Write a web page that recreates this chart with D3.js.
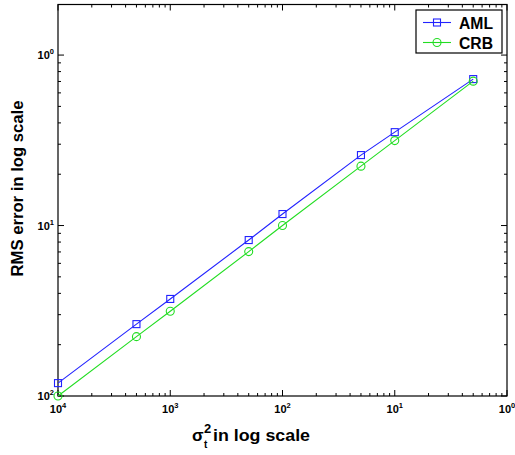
<!DOCTYPE html>
<html><head><meta charset="utf-8">
<script src="https://cdn.jsdelivr.net/npm/d3@7"></script>
<style>body{margin:0;background:#fff}svg{display:block}</style>
</head><body>
<script>
const sigma2 = [1e-4, 5e-4, 1e-3, 5e-3, 1e-2, 5e-2, 1e-1, 5e-1];
const aml = [0.0119, 0.0264, 0.0371, 0.0822, 0.1168, 0.259, 0.353, 0.723];
const crb = [0.0100, 0.0223, 0.0314, 0.0703, 0.100, 0.223, 0.315, 0.703];
const xTicks = [1e-4, 1e-3, 1e-2, 1e-1, 1e0];
const xTickLabels = ["4", "3", "2", "1", "0"];
const yTicks = [1e-2, 1e-1, 1e0];
const yTickLabels = ["2", "1", "0"];
const seriesNames = ["AML", "CRB"];

const W = 515, H = 455;
const L = 58, R = 507, T = 4.5, B = 396;
const svg = d3.select("body").append("svg").attr("width", W).attr("height", H);
const x = d3.scaleLog().domain([1e-4, 1]).range([L, R]);
const y = d3.scaleLog().domain([0.01, 1.98]).range([B, T]);
const font = "'Liberation Sans', Arial, sans-serif";

function minors(lo, hi) {
  const out = [];
  for (let e = Math.floor(Math.log10(lo)); e <= Math.ceil(Math.log10(hi)); e++)
    for (let k = 2; k <= 9; k++) { const v = k * Math.pow(10, e); if (v > lo && v < hi) out.push(v); }
  return out;
}
const g = svg.append("g").attr("stroke", "#000").attr("stroke-width", 1);
const xMin = minors(1e-4, 1), yMin = minors(0.01, 1.98);
xTicks.forEach(v => {
  g.append("line").attr("x1", x(v)).attr("x2", x(v)).attr("y1", B).attr("y2", B - 6);
  g.append("line").attr("x1", x(v)).attr("x2", x(v)).attr("y1", T).attr("y2", T + 6);
});
xMin.forEach(v => {
  g.append("line").attr("x1", x(v)).attr("x2", x(v)).attr("y1", B).attr("y2", B - 3);
  g.append("line").attr("x1", x(v)).attr("x2", x(v)).attr("y1", T).attr("y2", T + 3);
});
yTicks.forEach(v => {
  g.append("line").attr("y1", y(v)).attr("y2", y(v)).attr("x1", L).attr("x2", L + 6);
  g.append("line").attr("y1", y(v)).attr("y2", y(v)).attr("x1", R).attr("x2", R - 6);
});
yMin.forEach(v => {
  g.append("line").attr("y1", y(v)).attr("y2", y(v)).attr("x1", L).attr("x2", L + 3);
  g.append("line").attr("y1", y(v)).attr("y2", y(v)).attr("x1", R).attr("x2", R - 3);
});
svg.append("rect").attr("x", L).attr("y", T).attr("width", R - L).attr("height", B - T)
  .attr("fill", "none").attr("stroke", "#000").attr("stroke-width", 1.2);

xTicks.forEach((v, i) => {
  const t = svg.append("text").attr("x", x(v)).attr("y", B + 17).attr("text-anchor", "middle")
    .attr("font-family", font).attr("font-weight", "bold").attr("font-size", 11);
  t.append("tspan").text("10");
  t.append("tspan").attr("dy", -5).attr("font-size", 7.5).text(xTickLabels[i]);
});
yTicks.forEach((v, i) => {
  const t = svg.append("text").attr("x", L - 4).attr("y", y(v) + 4).attr("text-anchor", "end")
    .attr("font-family", font).attr("font-weight", "bold").attr("font-size", 11);
  t.append("tspan").text("10");
  t.append("tspan").attr("dy", -5).attr("font-size", 7.5).text(yTickLabels[i]);
});

// axis labels
svg.append("text").attr("transform", `translate(23,188.5) rotate(-90)`)
  .attr("text-anchor", "middle").attr("font-family", font).attr("font-size", 17)
  .attr("font-weight", "bold").attr("textLength", 176).attr("lengthAdjust", "spacingAndGlyphs")
  .text("RMS error in log scale");
svg.append("text").attr("x", 192).attr("y", 441).attr("font-family", font).attr("font-size", 17).attr("font-weight", "bold").text("σ");
svg.append("text").attr("x", 204).attr("y", 433).attr("font-family", font).attr("font-size", 13).attr("font-weight", "bold").text("2");
svg.append("text").attr("x", 204).attr("y", 448).attr("font-family", font).attr("font-size", 10).attr("font-weight", "bold").text("t");
svg.append("text").attr("x", 213).attr("y", 441).attr("font-family", font).attr("font-size", 17).attr("font-weight", "bold")
  .attr("textLength", 97).attr("lengthAdjust", "spacingAndGlyphs").text("in log scale");

// series
const colors = ["#2222ff", "#22dd22"];
const line = d3.line().x(d => x(d[0])).y(d => y(d[1]));
[aml, crb].forEach((vals, si) => {
  const pts = sigma2.map((s, i) => [s, vals[i]]);
  svg.append("path").attr("d", line(pts)).attr("fill", "none").attr("stroke", colors[si]).attr("stroke-width", 1.1);
  pts.forEach(p => {
    if (si === 0) svg.append("rect").attr("x", x(p[0]) - 3.5).attr("y", y(p[1]) - 3.5).attr("width", 7).attr("height", 7)
      .attr("fill", "none").attr("stroke", colors[si]).attr("stroke-width", 1.1);
    else svg.append("circle").attr("cx", x(p[0])).attr("cy", y(p[1])).attr("r", 4)
      .attr("fill", "none").attr("stroke", colors[si]).attr("stroke-width", 1.1);
  });
});

// legend
const lg = svg.append("g");
lg.append("rect").attr("x", 416).attr("y", 10).attr("width", 86).attr("height", 43)
  .attr("fill", "#fff").attr("stroke", "#000").attr("stroke-width", 1.2);
seriesNames.forEach((n, i) => {
  const yy = 22.5 + i * 20;
  lg.append("line").attr("x1", 423).attr("x2", 451).attr("y1", yy).attr("y2", yy).attr("stroke", colors[i]).attr("stroke-width", 1.1);
  if (i === 0) lg.append("rect").attr("x", 433.5).attr("y", yy - 3.5).attr("width", 7).attr("height", 7).attr("fill", "none").attr("stroke", colors[i]).attr("stroke-width", 1.1);
  else lg.append("circle").attr("cx", 437).attr("cy", yy).attr("r", 4).attr("fill", "none").attr("stroke", colors[i]).attr("stroke-width", 1.1);
  lg.append("text").attr("x", 459).attr("y", yy + 6).attr("font-family", font).attr("font-weight", "bold").attr("font-size", 16)
    .attr("textLength", 34).attr("lengthAdjust", "spacingAndGlyphs").text(n);
});
</script>
</body></html>
